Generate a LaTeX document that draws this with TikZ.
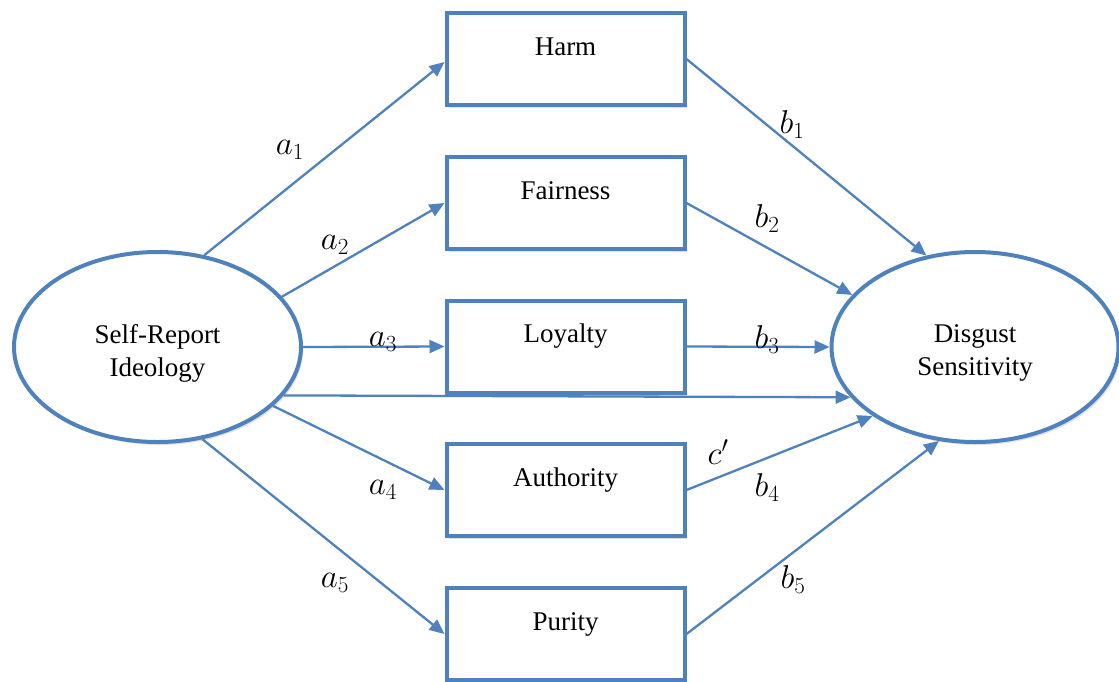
\RequirePackage{fix-cm}
\documentclass[tikz,border=0pt]{standalone}
\usepackage{fontspec}
\setmainfont{Liberation Serif}
\usetikzlibrary{shapes.geometric,arrows.meta,shadows}
\definecolor{lineblue}{RGB}{79,129,189}
\begin{document}
\begin{tikzpicture}[x=1pt,y=-1pt,
  txt/.style={font=\fontsize{27}{33}\selectfont},
  lbl/.style={font=\fontsize{33}{36}\selectfont, inner sep=0pt},
  shad/.style={drop shadow={opacity=0.25, shadow xshift=2pt, shadow yshift=-3pt}},
  ell/.style={ellipse, draw=lineblue, line width=4pt, fill=white, shad,
    minimum width=287pt, minimum height=190pt, inner sep=0pt},
  elltext/.style={txt, align=center, inner sep=0pt},
  box/.style={txt, rectangle, draw=lineblue, line width=4pt, fill=white, shad,
    minimum width=238pt, minimum height=92pt, inner sep=0pt,
    text height=18pt, text depth=26pt},
  arr/.style={draw=lineblue, line width=2.3pt, -{Triangle[length=15pt, width=13pt]}}
]
\useasboundingbox (0,0) rectangle (1119,681);
\clip (0,0) rectangle (1119,681);

\node[ell] (L) at (157.5,347) {};
\node[elltext] (Lt) at (157.5,353) {Self-Report\\Ideology};
\node[ell] (R) at (975,347) {};
\node[elltext] (Rt) at (975,353) {Disgust\\Sensitivity};

\node[box] (H) at (565.5,59) {Harm};
\node[box] (F) at (565.5,203) {Fairness};
\node[box] (Y) at (565.5,346.5) {Loyalty};
\node[box] (A) at (565.5,490) {Authority};
\node[box] (P) at (565.5,634) {Purity};

\draw[arr] (L.63) -- ([yshift=-3pt]H.west);
\draw[arr] (L.22) -- (F.west);
\draw[arr] (L.east) -- (Y.west);
\draw[arr] (L.-27) -- (A.west);
\draw[arr] (L.-64) -- (P.west);
\draw[arr] (L.-21) -- (R.202);

\draw[arr] (H.east) -- (R.118);
\draw[arr] (F.east) -- (R.157);
\draw[arr] (Y.east) -- (R.west);
\draw[arr] (A.east) -- (R.214);
\draw[arr] (P.east) -- (R.249);

\node[lbl] (a1) at (290,150) {$a_1$};
\node[lbl] (a2) at (335,245) {$a_2$};
\node[lbl] (a3) at (383,342) {$a_3$};
\node[lbl] (a4) at (383,490) {$a_4$};
\node[lbl] (a5) at (335,583) {$a_5$};
\node[lbl] (b1) at (792,125) {$b_1$};
\node[lbl] (b2) at (767,219) {$b_2$};
\node[lbl] (b3) at (767,340) {$b_3$};
\node[lbl] (b4) at (767,488) {$b_4$};
\node[lbl] (b5) at (793,580) {$b_5$};
\node[lbl] (c) at (718,452) {$c'$};
\end{tikzpicture}
\end{document}
